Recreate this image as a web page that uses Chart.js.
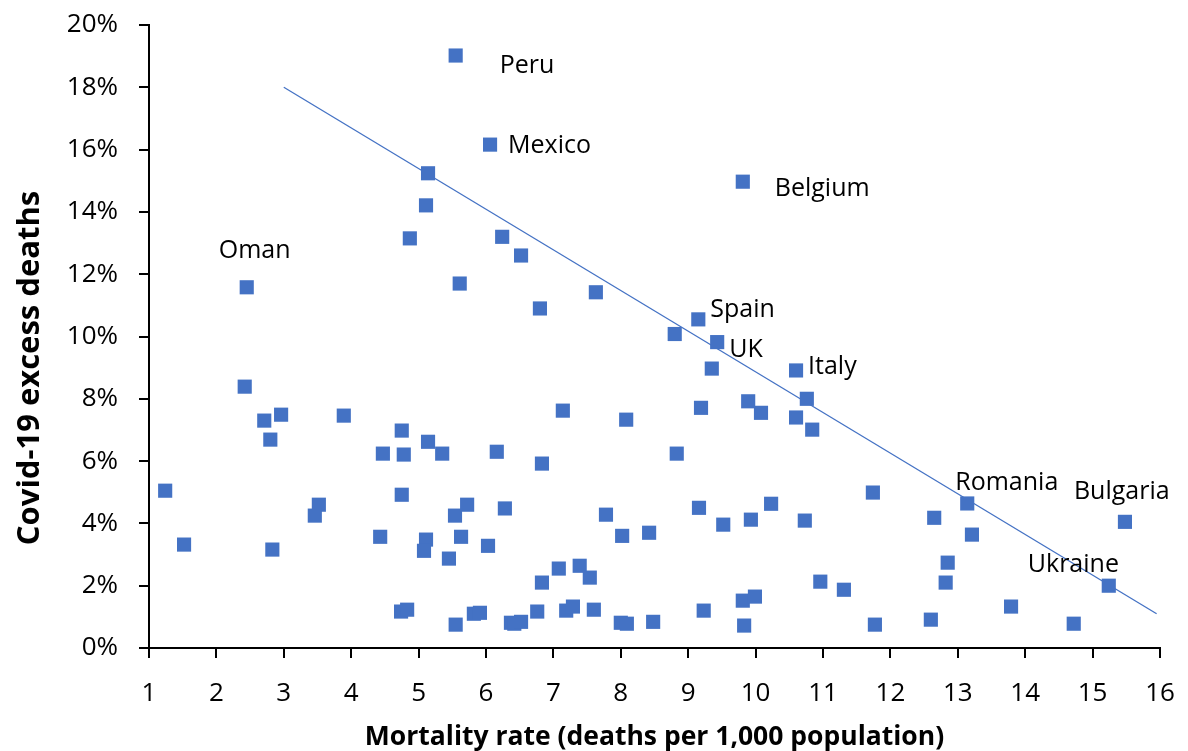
<!DOCTYPE html>
<html>
<head>
<meta charset="utf-8">
<script src="https://cdn.jsdelivr.net/npm/chart.js@4/dist/chart.umd.min.js"></script>
<style>
html,body{margin:0;padding:0;background:#fff;}
#wrap{width:1188px;height:751px;position:relative;}
</style>
</head>
<body>
<div id="wrap"><canvas id="c"></canvas></div>
<script>
// Mortality rate (deaths per 1,000 population)
const mortality = [
  5.55, 6.06, 9.81, 2.45, 9.15, 9.43, 10.60, 13.14, 15.48, 15.24,
  5.14, 5.11, 4.87, 6.24, 6.52, 5.61, 7.63, 6.80, 8.80, 9.35,
  10.76, 7.14, 8.08, 9.19, 9.89, 10.08, 10.60, 10.84, 6.83, 8.83,
  11.74, 12.65, 7.78, 8.02, 8.42, 9.16, 9.52, 9.93, 10.23, 10.73,
  6.83, 7.08, 7.39, 7.54, 10.96, 11.31, 6.76, 7.19, 7.29, 7.60,
  8.00, 8.09, 8.48, 9.23, 9.81, 9.99, 9.83, 11.77, 12.60, 2.42,
  2.71, 2.96, 2.80, 3.89, 4.75, 4.47, 4.78, 5.14, 5.35, 6.16,
  1.24, 1.52, 2.83, 3.52, 3.46, 4.75, 4.43, 5.11, 5.08, 5.45,
  5.54, 5.72, 5.63, 6.28, 6.03, 4.74, 4.83, 5.55, 5.82, 5.91,
  6.37, 6.42, 6.52, 13.21, 12.85, 12.82, 13.79, 14.72
];
// Covid-19 excess deaths (%)
const excessDeaths = [
  19.02, 16.16, 14.97, 11.58, 10.55, 9.82, 8.91, 4.64, 4.05, 2.00,
  15.24, 14.21, 13.15, 13.20, 12.60, 11.70, 11.42, 10.90, 10.08, 8.97,
  8.00, 7.62, 7.33, 7.71, 7.92, 7.55, 7.40, 7.01, 5.92, 6.24,
  4.99, 4.18, 4.28, 3.60, 3.70, 4.50, 3.96, 4.12, 4.63, 4.09,
  2.10, 2.55, 2.64, 2.26, 2.13, 1.87, 1.17, 1.20, 1.33, 1.23,
  0.81, 0.78, 0.84, 1.20, 1.52, 1.65, 0.72, 0.75, 0.91, 8.39,
  7.30, 7.49, 6.69, 7.46, 6.98, 6.24, 6.21, 6.62, 6.24, 6.30,
  5.05, 3.32, 3.16, 4.60, 4.25, 4.92, 3.57, 3.48, 3.12, 2.87,
  4.25, 4.60, 3.57, 4.48, 3.28, 1.17, 1.23, 0.75, 1.10, 1.13,
  0.81, 0.78, 0.84, 3.64, 2.74, 2.10, 1.33, 0.78
];
// Country names for labelled points (same order as the first values above)
const countryLabels = ['Peru', 'Mexico', 'Belgium', 'Oman', 'Spain', 'UK', 'Italy', 'Romania', 'Bulgaria', 'Ukraine'];
// Trend line end points
const trendX = [3.0, 15.95];
const trendY = [18.0, 1.1];
// Axis ticks
const xTickMin = 1, xTickMax = 16, xTickStep = 1;
const yTickMin = 0, yTickMax = 20, yTickStep = 2;
const xTitle = 'Mortality rate (deaths per 1,000 population)';
const yTitle = 'Covid-19 excess deaths';

const FONT = "'Open Sans', 'Liberation Sans', sans-serif";
const BLUE = '#4472C4';

const points = mortality.map((x, i) => ({x: x, y: excessDeaths[i]}));
const trend = trendX.map((x, i) => ({x: x, y: trendY[i]}));

// label placement relative to the marker (pixels)
const labelOffsets = {
  Peru: [44, 10], Mexico: [18, 1], Belgium: [32, 7], Oman: [-28, -36],
  Spain: [12, -9], UK: [12, 8], Italy: [12, -4], Romania: [-12, -21],
  Bulgaria: [-51, -30], Ukraine: [-81, -21]
};

const labelPlugin = {
  id: 'labels',
  afterDatasetsDraw(chart) {
    const ctx = chart.ctx;
    const xs = chart.scales.x, ys = chart.scales.y;
    ctx.save();
    ctx.font = '25px ' + FONT;
    ctx.fillStyle = '#000';
    ctx.textAlign = 'left';
    ctx.textBaseline = 'middle';
    countryLabels.forEach((name, i) => {
      const px = xs.getPixelForValue(mortality[i]);
      const py = ys.getPixelForValue(excessDeaths[i]);
      const o = labelOffsets[name] || [12, 0];
      ctx.fillText(name, px + o[0], py + o[1]);
    });
    // axis titles
    ctx.font = 'bold 26.5px ' + FONT;
    ctx.textAlign = 'center';
    ctx.fillText(xTitle, (chart.chartArea.left + chart.chartArea.right) / 2, 737);
    ctx.font = 'bold 31px ' + FONT;
    ctx.translate(30, 368);
    ctx.rotate(-Math.PI / 2);
    ctx.fillText(yTitle, 0, 0);
    ctx.restore();
  }
};

function noPad(s) { s.paddingTop = 0; s.paddingBottom = 0; s.paddingLeft = 0; s.paddingRight = 0; }

new Chart(document.getElementById('c'), {
  type: 'scatter',
  data: {
    datasets: [
      {
        label: 'Countries',
        data: points,
        pointStyle: 'rect',
        pointRadius: 10,
        pointHoverRadius: 10,
        pointBorderWidth: 0,
        backgroundColor: BLUE,
        borderColor: BLUE
      },
      {
        label: 'Trend',
        type: 'line',
        data: trend,
        showLine: true,
        borderColor: BLUE,
        borderWidth: 1.3,
        pointRadius: 0,
        fill: false
      }
    ]
  },
  options: {
    responsive: true,
    maintainAspectRatio: false,
    animation: false,
    events: [],
    layout: {padding: {top: 25, right: 28, left: 0, bottom: 0}},
    plugins: {legend: {display: false}, tooltip: {enabled: false}},
    scales: {
      x: {
        type: 'linear',
        min: xTickMin, max: xTickMax,
        afterFit(s) { s.height = 103; noPad(s); },
        border: {display: true, color: '#000', width: 2},
        grid: {drawOnChartArea: false, drawTicks: true, tickLength: 10, color: '#000', lineWidth: 2},
        ticks: {stepSize: xTickStep, color: '#000', padding: 20, font: {family: FONT, size: 26}, maxRotation: 0}
      },
      y: {
        type: 'linear',
        min: yTickMin, max: yTickMax,
        afterFit(s) { s.width = 149; noPad(s); },
        border: {display: true, color: '#000', width: 2},
        grid: {drawOnChartArea: false, drawTicks: true, tickLength: 10, color: '#000', lineWidth: 2},
        ticks: {stepSize: yTickStep, color: '#000', padding: 21, font: {family: FONT, size: 26},
          callback: v => v + '%'}
      }
    }
  },
  plugins: [labelPlugin]
});
</script>
</body>
</html>
